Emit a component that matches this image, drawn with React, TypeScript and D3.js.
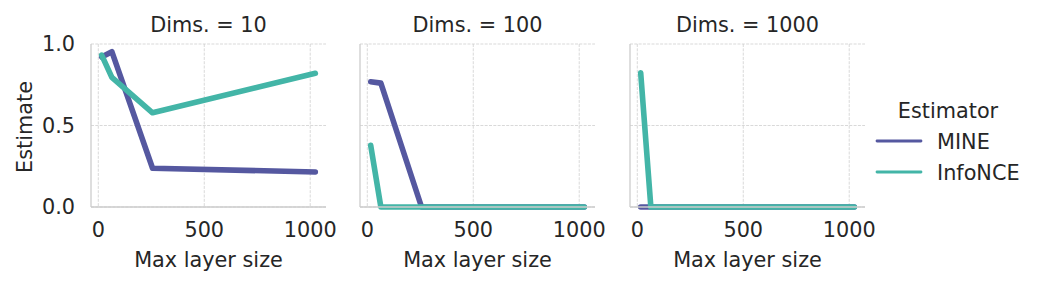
import React from "react"
import * as d3 from "d3"

const layerSizes = [16, 64, 256, 1024]
const dims = ["10", "100", "1000"]

const mineValues = [
  [0.92, 0.953, 0.238, 0.215],
  [0.768, 0.76, 0.0, 0.0],
  [0.0, 0.0, 0.0, 0.0],
]
const infoNceValues = [
  [0.932, 0.795, 0.578, 0.82],
  [0.379, 0.0, 0.0, 0.0],
  [0.824, 0.0, 0.0, 0.0],
]

const estimators = ["MINE", "InfoNCE"]
const colors: Record<string, string> = { MINE: "#5558a0", InfoNCE: "#43b5a7" }

const xTicks = [0, 500, 1000]
const yTicks = [0, 0.5, 1.0]

const W = 1037
const H = 285
const panelLefts = [91, 360, 630]
const panelWidth = 235
const top = 44
const bottom = 207
const textColor = "#262626"
const font = "DejaVu Sans, sans-serif"
const fs = 20.8

const App: React.FC = () => {
  const pad = (d3.max(layerSizes)! - d3.min(layerSizes)!) * 0.05
  const y = d3.scaleLinear().domain([0, 1]).range([bottom, top])

  const line = (x: d3.ScaleLinear<number, number>, vals: number[]) =>
    d3
      .line<number>()
      .x((_, i) => x(layerSizes[i]))
      .y((d) => y(d))(vals) || ""

  return (
    <svg width={W} height={H} style={{ position: "absolute", left: 0, top: 0 }} fontFamily={font}>
      <rect width={W} height={H} fill="#fff" />
      {dims.map((dim, p) => {
        const left = panelLefts[p]
        const x = d3
          .scaleLinear()
          .domain([d3.min(layerSizes)! - pad, d3.max(layerSizes)! + pad])
          .range([left, left + panelWidth])
        const series = [
          { name: "MINE", vals: mineValues[p] },
          { name: "InfoNCE", vals: infoNceValues[p] },
        ]
        return (
          <g key={dim}>
            {xTicks.map((t) => (
              <line
                key={"gx" + t}
                x1={x(t)}
                x2={x(t)}
                y1={top}
                y2={bottom}
                stroke="#cfcfcf"
                strokeWidth={0.8}
                strokeDasharray="3,1.3"
              />
            ))}
            {yTicks.map((t) => (
              <line
                key={"gy" + t}
                x1={left}
                x2={left + panelWidth}
                y1={y(t)}
                y2={y(t)}
                stroke="#cfcfcf"
                strokeWidth={0.8}
                strokeDasharray="3,1.3"
              />
            ))}
            {series.map((s) => (
              <path
                key={s.name}
                d={line(x, s.vals)}
                fill="none"
                stroke={colors[s.name]}
                strokeWidth={5.6}
                strokeLinejoin="round"
                strokeLinecap="round"
              />
            ))}
            <line x1={left} x2={left} y1={top} y2={bottom} stroke="#cccccc" strokeWidth={1.3} />
            <line x1={left} x2={left + panelWidth} y1={bottom} y2={bottom} stroke="#cccccc" strokeWidth={1.3} />
            {xTicks.map((t) => (
              <text
                key={"xt" + t}
                x={x(t)}
                y={237}
                textAnchor="middle"
                fontSize={fs}
                fill={textColor}
              >
                {t}
              </text>
            ))}
            {p === 0 &&
              yTicks.map((t) => (
                <text
                  key={"yt" + t}
                  x={75}
                  y={y(t)}
                  dy="0.36em"
                  textAnchor="end"
                  fontSize={fs}
                  fill={textColor}
                >
                  {t.toFixed(1)}
                </text>
              ))}
            <text x={left + panelWidth / 2} y={267} textAnchor="middle" fontSize={fs} fill={textColor}>
              Max layer size
            </text>
            <text x={left + panelWidth / 2} y={31.5} textAnchor="middle" fontSize={fs} fill={textColor}>
              {`Dims. = ${dim}`}
            </text>
          </g>
        )
      })}
      <text
        transform={`translate(32,127) rotate(-90)`}
        textAnchor="middle"
        fontSize={fs}
        fill={textColor}
      >
        Estimate
      </text>
      <text x={948} y={118} textAnchor="middle" fontSize={fs} fill={textColor}>
        Estimator
      </text>
      {estimators.map((e, i) => (
        <g key={e} transform={`translate(0,${141 + i * 31})`}>
          <line x1={877} x2={921} y1={0} y2={0} stroke={colors[e]} strokeWidth={2.8} strokeLinecap="round" />
          <text x={937} y={0} dy="0.36em" fontSize={fs} fill={textColor}>
            {e}
          </text>
        </g>
      ))}
    </svg>
  )
}

export default App
